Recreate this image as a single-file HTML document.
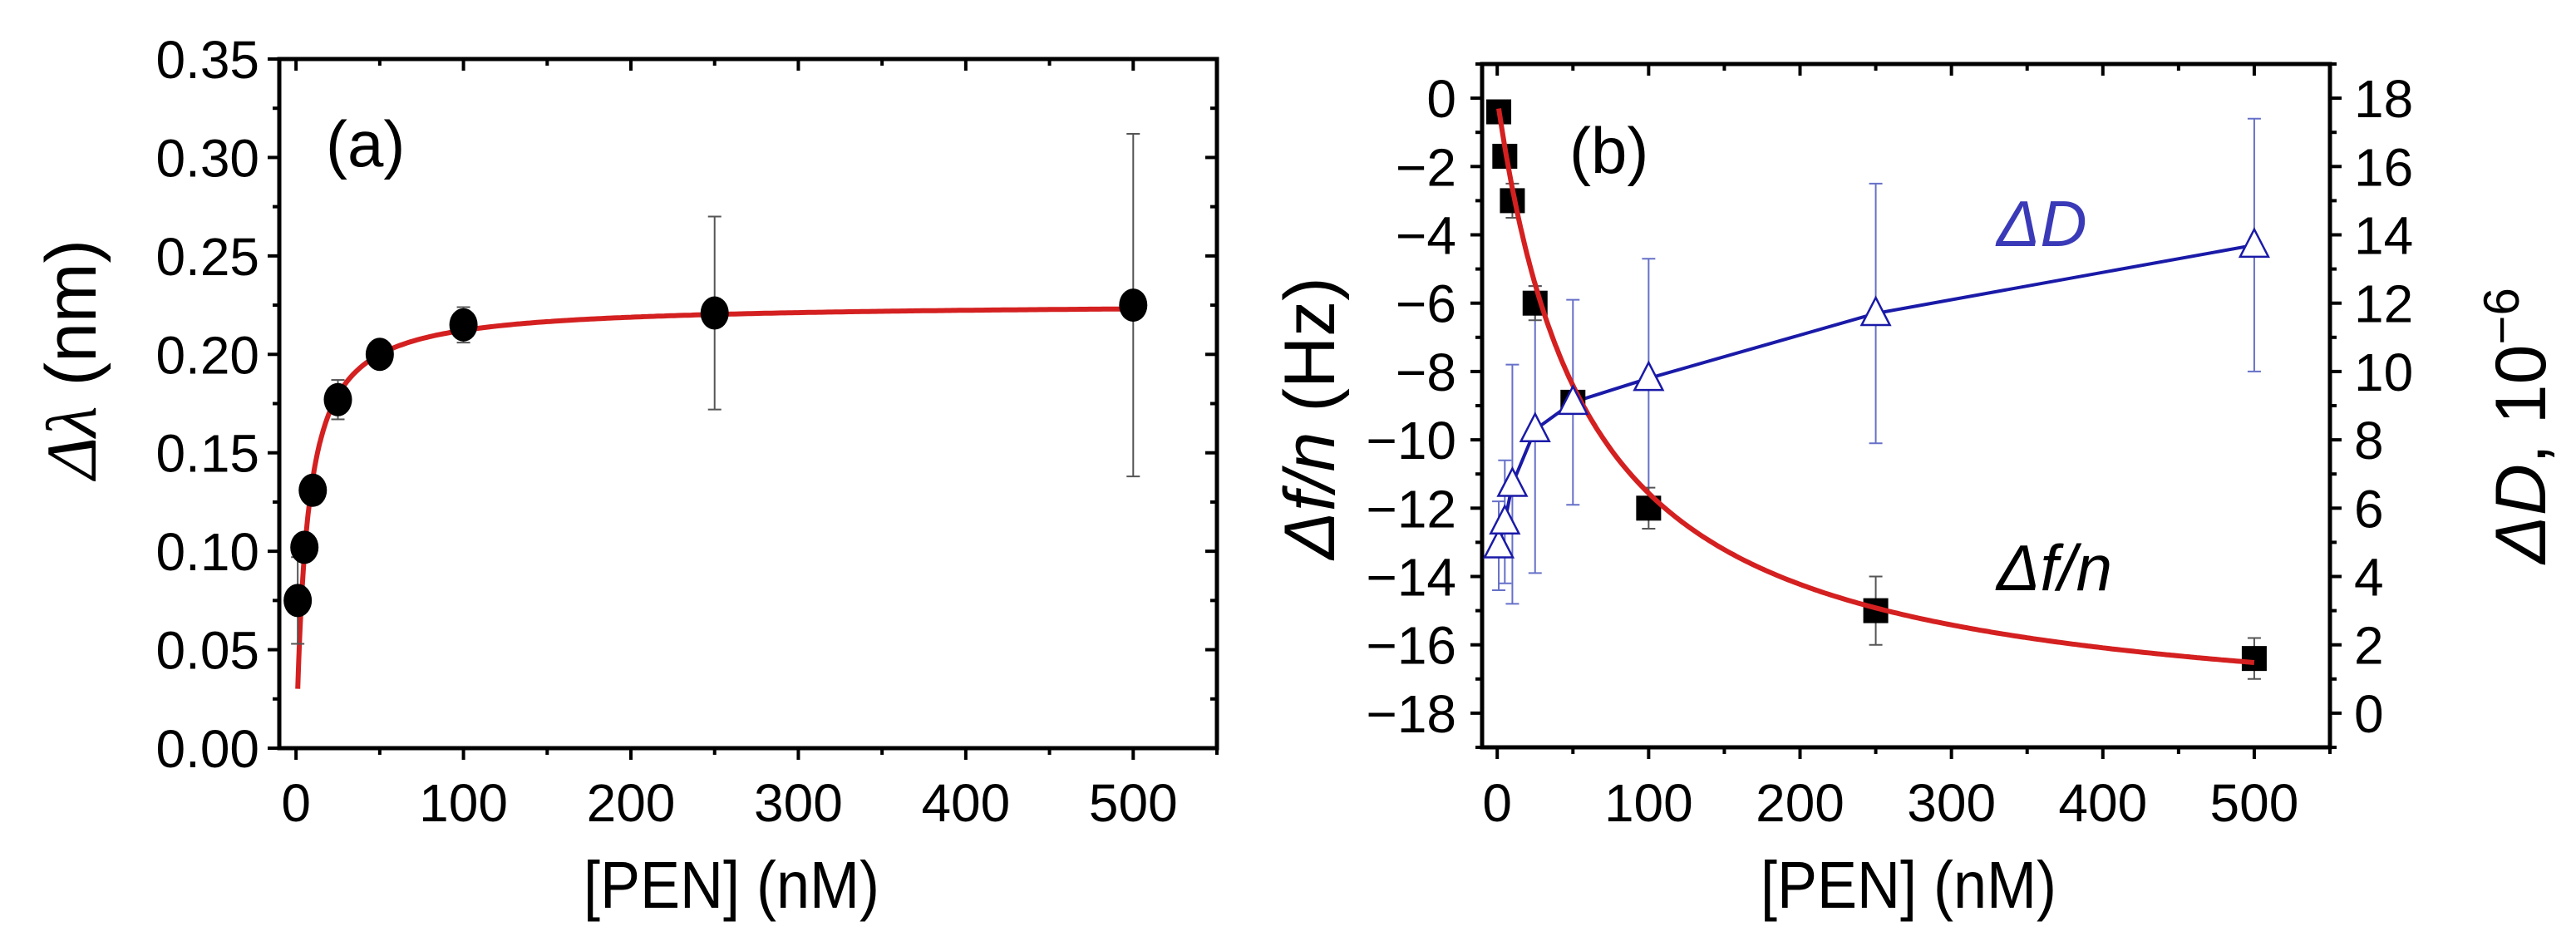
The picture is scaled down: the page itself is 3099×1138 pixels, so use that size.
<!DOCTYPE html>
<html><head><meta charset="utf-8">
<style>
html,body{margin:0;padding:0;background:#fff;}
svg{display:block;}
text{font-family:"Liberation Sans",Arial,sans-serif;fill:#000;}
</style></head>
<body>
<svg id="fig" width="3099" height="1138" viewBox="0 0 3099 1138" xmlns="http://www.w3.org/2000/svg"></svg>
<script>
// ---- Panel (a) data ----
const concA = [1, 5, 10, 25, 50, 100, 250, 500];
const shiftA = [0.075, 0.102, 0.131, 0.177, 0.200, 0.215, 0.221, 0.225];
const shiftErrA = [0.022, 0.005, 0.004, 0.010, 0.003, 0.009, 0.049, 0.087];
const fitA_Bmax = [0.226];
const fitA_K = [6.5];
const yTicksA = ["0.00","0.05","0.10","0.15","0.20","0.25","0.30","0.35"];
const xTicks = ["0","100","200","300","400","500"];
// ---- Panel (b) data ----
const concB = [1, 5, 10, 25, 50, 100, 250, 500];
const freqB = [-0.4, -1.7, -3.0, -6.0, -8.9, -12.0, -15.0, -16.4];
const freqErrB = [0.2, 0.2, 0.5, 0.5, 0.3, 0.6, 1.0, 0.6];
const dissB = [4.9, 5.6, 6.7, 8.3, 9.1, 9.8, 11.7, 13.7];
const dissErrB = [1.3, 1.8, 3.5, 4.2, 3.0, 3.5, 3.8, 3.7];
const fitB_A = [-18.5];
const fitB_K = [60];
const yTicksB = ["0","-2","-4","-6","-8","-10","-12","-14","-16","-18"];
const yTicksD = ["0","2","4","6","8","10","12","14","16","18"];

const NS = "http://www.w3.org/2000/svg";
const svg = document.getElementById("fig");
function el(tag, attrs, parent) {
  const e = document.createElementNS(NS, tag);
  for (const k in attrs) e.setAttribute(k, attrs[k]);
  (parent || svg).appendChild(e);
  return e;
}
function lin(d0, d1, r0, r1) { return v => r0 + (v - d0) * (r1 - r0) / (d1 - d0); }
const TF = 64;

// ================= Panel A =================
const gA = el("g", {});


const A = {l: 336, r: 1464, t: 71, b: 900};
const xA = lin(-10, 550, A.l, A.r);
const yA = lin(0, 0.35, A.b, A.t);

function frame(g, P) {
  const f = el("rect", {x: P.l, y: P.t, width: P.r - P.l, height: P.b - P.t, fill: "none", stroke: "#000", "stroke-width": 5}, g);
  
  
}
frame(gA, A);
for (let v = 0; v <= 550; v += 50) {
  const major = v % 100 === 0;
  const L = major ? 14 : 8;
  const x = xA(v);
  el("line", {x1: x, y1: A.b, x2: x, y2: A.b + L, stroke: "#000", "stroke-width": 4}, gA);
  el("line", {x1: x, y1: A.t, x2: x, y2: A.t + L, stroke: "#000", "stroke-width": 4}, gA);
}
xTicks.forEach(s => {
  const t = el("text", {x: xA(+s), y: 988, "font-size": TF, "text-anchor": "middle"}, gA);
  t.textContent = s;
  
  
});
for (let i = 0; i <= 14; i++) {
  const v = i * 0.025;
  const major = i % 2 === 0;
  const L = major ? 14 : 8;
  const y = yA(v);
  el("line", {x1: A.l - L, y1: y, x2: A.l, y2: y, stroke: "#000", "stroke-width": 4}, gA);
  el("line", {x1: A.r - L, y1: y, x2: A.r, y2: y, stroke: "#000", "stroke-width": 4}, gA);
}
yTicksA.forEach(s => {
  const t = el("text", {x: 312, y: yA(+s) + 23, "font-size": TF, "text-anchor": "end"}, gA);
  t.textContent = s;
  
  
});
{
  let d = "";
  for (let x = 1; x <= 500; x += (x < 30 ? 0.25 : 2)) {
    const y = fitA_Bmax[0] * x / (fitA_K[0] + x);
    d += (d ? "L" : "M") + xA(x).toFixed(1) + "," + yA(y).toFixed(1);
  }
  const p = el("path", {d, fill: "none", stroke: "#d42020", "stroke-width": 6}, gA);
  
  
}
concA.forEach((c, i) => {
  const x = xA(c), y0 = yA(shiftA[i] - shiftErrA[i]), y1 = yA(shiftA[i] + shiftErrA[i]);
  const g = el("g", {stroke: "#555", "stroke-width": 2}, gA);
  
  
  el("line", {x1: x, y1: y0, x2: x, y2: y1}, g);
  el("line", {x1: x - 8, y1: y0, x2: x + 8, y2: y0}, g);
  el("line", {x1: x - 8, y1: y1, x2: x + 8, y2: y1}, g);
});
concA.forEach((c, i) => {
  const e = el("ellipse", {cx: xA(c), cy: yA(shiftA[i]), rx: 17, ry: 20, fill: "#000"}, gA);
  
  
});
{
  const t = el("text", {x: 392, y: 200, "font-size": 78}, gA);
  t.textContent = "(a)";
  
  
  const yt = el("text", {x: 0, y: 0, "font-size": 86, "text-anchor": "middle", transform: "translate(115,432) rotate(-90)"}, gA);
  yt.innerHTML = '<tspan font-style="italic" font-family="Liberation Serif, serif">Δλ</tspan> (nm)';
  
  
  const xt = el("text", {x: 880, y: 1092, "font-size": 80, "text-anchor": "middle", transform: "translate(880,0) scale(0.9,1) translate(-880,0)"}, gA);
  xt.textContent = "[PEN] (nM)";
  
  
}

// ================= Panel B =================
const gB = el("g", {});


const B = {l: 1783, r: 2803, t: 77, b: 899};
const xB = lin(-10, 550, B.l, B.r);
const yB = lin(-19, 1, B.b, B.t);
const yD = lin(-1, 19, B.b, B.t);
frame(gB, B);
for (let v = 0; v <= 550; v += 50) {
  const major = v % 100 === 0;
  const L = major ? 14 : 8;
  const x = xB(v);
  el("line", {x1: x, y1: B.b, x2: x, y2: B.b + L, stroke: "#000", "stroke-width": 4}, gB);
  el("line", {x1: x, y1: B.t, x2: x, y2: B.t + L, stroke: "#000", "stroke-width": 4}, gB);
}
xTicks.forEach(s => {
  const t = el("text", {x: xB(+s), y: 988, "font-size": TF, "text-anchor": "middle"}, gB);
  t.textContent = s;
  
  
});
for (let v = -19; v <= 1; v += 1) {
  const major = v % 2 === 0;
  const L = major ? 14 : 8;
  const y = yB(v);
  el("line", {x1: B.l - L, y1: y, x2: B.l, y2: y, stroke: "#000", "stroke-width": 4}, gB);
}
for (let v = -1; v <= 19; v += 1) {
  const major = v % 2 === 0;
  const L = major ? 14 : 8;
  const y = yD(v);
  el("line", {x1: B.r, y1: y, x2: B.r + L, y2: y, stroke: "#000", "stroke-width": 4}, gB);
}
yTicksB.forEach(s => {
  const t = el("text", {x: 1752, y: yB(+s) + 23, "font-size": TF, "text-anchor": "end"}, gB);
  t.textContent = s.replace("-", "\u2212");
  
  
});
yTicksD.forEach(s => {
  const t = el("text", {x: 2832, y: yD(+s) + 23, "font-size": TF, "text-anchor": "start"}, gB);
  t.textContent = s;
  
  
});
concB.forEach((c, i) => {
  const x = xB(c), y0 = yD(dissB[i] - dissErrB[i]), y1 = yD(dissB[i] + dissErrB[i]);
  const g = el("g", {stroke: "#6670c8", "stroke-width": 2}, gB);
  
  
  el("line", {x1: x, y1: y0, x2: x, y2: y1}, g);
  el("line", {x1: x - 8, y1: y0, x2: x + 8, y2: y0}, g);
  el("line", {x1: x - 8, y1: y1, x2: x + 8, y2: y1}, g);
});
{
  const pts = concB.map((c, i) => xB(c).toFixed(1) + "," + yD(dissB[i]).toFixed(1)).join(" ");
  const pl = el("polyline", {points: pts, fill: "none", stroke: "#1a1aa8", "stroke-width": 4}, gB);
  
  
}
concB.forEach((c, i) => {
  const x = xB(c), y0 = yB(freqB[i] - freqErrB[i]), y1 = yB(freqB[i] + freqErrB[i]);
  const g = el("g", {stroke: "#555", "stroke-width": 2}, gB);
  
  
  el("line", {x1: x, y1: y0, x2: x, y2: y1}, g);
  el("line", {x1: x - 8, y1: y0, x2: x + 8, y2: y0}, g);
  el("line", {x1: x - 8, y1: y1, x2: x + 8, y2: y1}, g);
});
concB.forEach((c, i) => {
  const r = el("rect", {x: xB(c) - 15, y: yB(freqB[i]) - 15, width: 30, height: 30, fill: "#000"}, gB);
  
  
});
{
  let d = "";
  for (let x = 1; x <= 500; x += (x < 60 ? 0.5 : 2)) {
    const y = fitB_A[0] * x / (fitB_K[0] + x);
    d += (d ? "L" : "M") + xB(x).toFixed(1) + "," + yB(y).toFixed(1);
  }
  const p = el("path", {d, fill: "none", stroke: "#d42020", "stroke-width": 6}, gB);
  
  
}
concB.forEach((c, i) => {
  const x = xB(c), y = yD(dissB[i]);
  const tr = el("polygon", {points: `${x},${y-19} ${x-17},${y+14} ${x+17},${y+14}`, fill: "#fff", stroke: "#1a1aa8", "stroke-width": 2.5}, gB);
  
  
});
{
  const t = el("text", {x: 1888, y: 208, "font-size": 78}, gB);
  t.textContent = "(b)";
  
  
  const d = el("text", {x: 2402, y: 296, "font-size": 78, "font-style": "italic", style: "fill:#3a3ab8"}, gB);
  d.textContent = "ΔD";
  
  
  const f = el("text", {x: 2402, y: 710, "font-size": 78, "font-style": "italic"}, gB);
  f.textContent = "Δf/n";
  
  
  const yl = el("text", {x: 0, y: 0, "font-size": 86, "text-anchor": "middle", transform: "translate(1605,503) rotate(-90)"}, gB);
  yl.innerHTML = '<tspan font-style="italic">Δf/n</tspan> (Hz)';
  
  
  const yr = el("text", {x: 0, y: 0, "font-size": 86, "text-anchor": "middle", transform: "translate(3062,512) rotate(-90)"}, gB);
  yr.innerHTML = '<tspan font-style="italic">ΔD</tspan>, 10<tspan dy="-32" font-size="60">−6</tspan>';
  
  
  const xt = el("text", {x: 2296, y: 1092, "font-size": 80, "text-anchor": "middle", transform: "translate(2296,0) scale(0.9,1) translate(-2296,0)"}, gB);
  xt.textContent = "[PEN] (nM)";
  
  
}
</script>
</body></html>
